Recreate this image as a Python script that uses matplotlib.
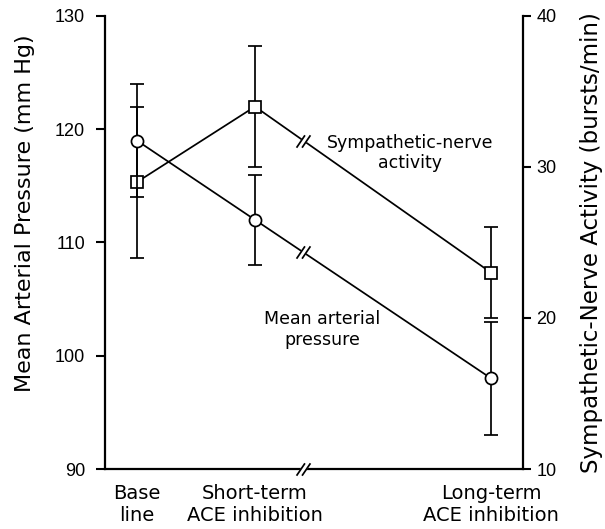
import numpy as np
import matplotlib.pyplot as plt
from matplotlib.path import Path

# values
stages = ['Base\nline', 'Short-term\nACE inhibition', 'Long-term\nACE inhibition']
stage_pos = [0, 1, 3]
map_mean = [119, 112, 98]   # mm Hg, left axis
map_err = [5, 4, 5]
sna_mean = [29, 34, 23]     # bursts/min, right axis
sna_err = [5, 4, 3]
break_x = 1.41

# "//" break symbol and the white patch that cuts the line underneath
slash_path = Path([(-6.95, -6.2), (1.45, 6.2), (-1.45, -6.2), (6.95, 6.2)],
                  [Path.MOVETO, Path.LINETO, Path.MOVETO, Path.LINETO])
cover_path = Path([(-6.95, -6.2), (-1.45, -6.2), (6.95, 6.2), (1.45, 6.2), (-6.95, -6.2)],
                  [Path.MOVETO, Path.LINETO, Path.LINETO, Path.LINETO, Path.CLOSEPOLY])
brk_ms = 10.0
lw = 1.25


def draw_break(a, x, y):
    a.plot([x], [y], marker=cover_path, ms=brk_ms, mfc='white', mec='white',
           mew=0.8, ls='none', clip_on=False, zorder=5)
    a.plot([x], [y], marker=slash_path, ms=brk_ms, mfc='none', mec='black',
           mew=lw, ls='none', clip_on=False, zorder=6)


fig = plt.figure(figsize=(6.05, 5.29), dpi=100)
ax = fig.add_axes([0.1736, 0.1134, 0.6909, 0.8564])
ax2 = ax.twinx()
ax.set_zorder(2)
ax2.set_zorder(1)
ax.patch.set_visible(False)

# sympathetic-nerve activity (squares, right axis)
ax2.errorbar(stage_pos, sna_mean, yerr=sna_err, fmt='none', ecolor='black',
             elinewidth=lw, capsize=5.3, capthick=lw, zorder=3)
ax2.plot(stage_pos, sna_mean, color='black', lw=lw, zorder=3)
ax2.plot(stage_pos, sna_mean, 's', ms=8.5, mfc='white', mec='black', mew=lw, zorder=4)
draw_break(ax2, break_x, np.interp(break_x, stage_pos, sna_mean))

# mean arterial pressure (circles, left axis)
ax.errorbar(stage_pos, map_mean, yerr=map_err, fmt='none', ecolor='black',
            elinewidth=lw, capsize=5.3, capthick=lw, zorder=3)
ax.plot(stage_pos, map_mean, color='black', lw=lw, zorder=3)
ax.plot(stage_pos, map_mean, 'o', ms=8.7, mfc='white', mec='black', mew=lw, zorder=4)
draw_break(ax, break_x, np.interp(break_x, stage_pos, map_mean))

ax.set_xlim(-0.27, 3.27)
ax.set_ylim(90, 130)
ax2.set_ylim(10, 40)
ax.set_yticks([90, 100, 110, 120, 130])
ax2.set_yticks([10, 20, 30, 40])
ax.set_xticks(stage_pos)
ax.set_xticklabels(stages, fontsize=14)

# x-axis break
draw_break(ax, break_x, 90)

for s in ['top', 'right']:
    ax.spines[s].set_visible(False)
for s in ['top', 'left', 'bottom']:
    ax2.spines[s].set_visible(False)
ax.spines['left'].set_linewidth(1.6)
ax.spines['bottom'].set_linewidth(1.6)
ax2.spines['right'].set_linewidth(1.6)

ax.tick_params(axis='x', length=0, pad=11)
ax.tick_params(axis='y', direction='out', length=6.5, width=1.5, pad=8, labelsize=13)
ax2.tick_params(axis='y', direction='out', length=6, width=1.5, pad=3.5, labelsize=13)
for lbl in ax.get_yticklabels() + ax2.get_yticklabels():
    lbl.set_fontfamily('Liberation Sans')

ax.set_ylabel('Mean Arterial Pressure (mm Hg)', fontsize=16)
ax.yaxis.set_label_coords(-0.167, 0.565)
ax2.set_ylabel('Sympathetic-Nerve Activity (bursts/min)', fontsize=16.5, rotation=90)
ax2.yaxis.set_label_coords(1.136, 0.5)

ax.text(2.31, 117.9, 'Sympathetic-nerve\nactivity', ha='center', va='center', fontsize=12.5)
ax.text(1.57, 102.3, 'Mean arterial\npressure', ha='center', va='center', fontsize=12.5)

fig.savefig('out.png', dpi=100)
